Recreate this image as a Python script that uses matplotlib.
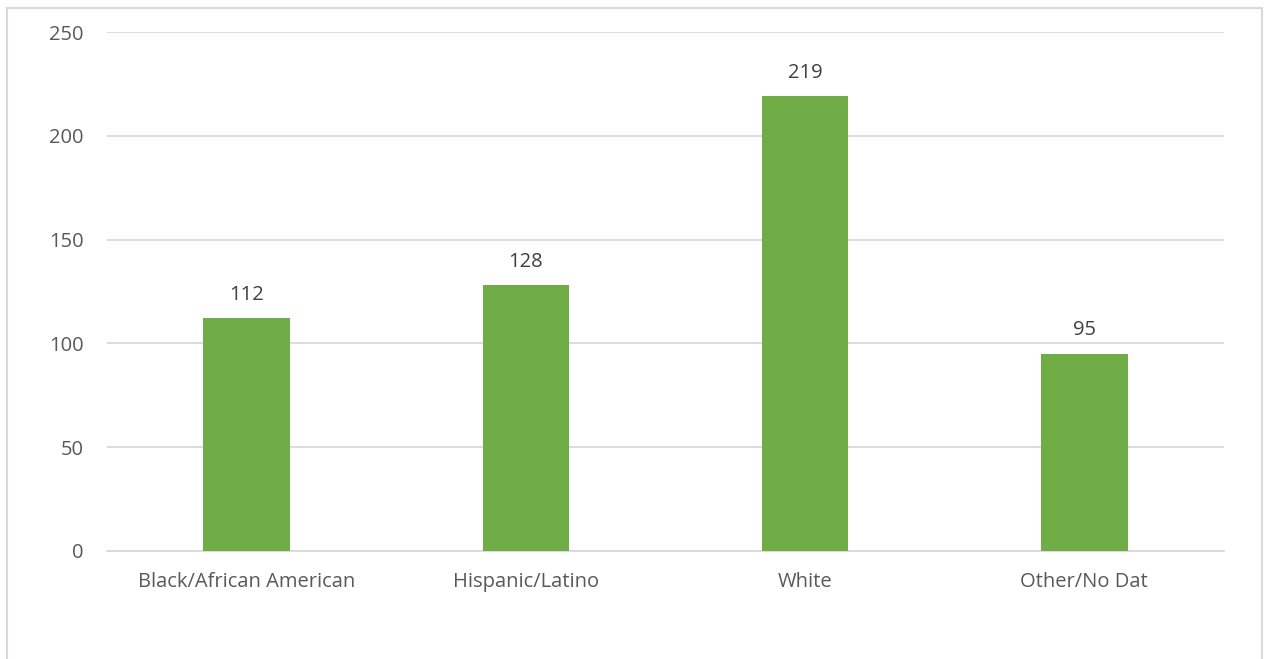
import matplotlib.pyplot as plt
from matplotlib.patches import Rectangle

# Data
categories = ["Black/African American", "Hispanic/Latino", "White", "Other/No Dat"]
counts = [112, 128, 219, 95]
yticks = [0, 50, 100, 150, 200, 250]

W, H = 1265, 659
fig = plt.figure(figsize=(W / 100, H / 100), dpi=100)
plt.rcParams['font.family'] = ['Open Sans', 'DejaVu Sans']

# outer chart border (bottom edge runs off the image)
fig.patches.append(Rectangle((7 / W, -0.05), (1262 - 7) / W, 1.05 - 8 / H,
                             transform=fig.transFigure, fill=False,
                             edgecolor="#d9d9d9", linewidth=1.5))

ax = fig.add_axes([107 / W, 1 - 551 / H, (1224 - 107) / W, (551 - 32) / H])
x = range(len(categories))
bars = ax.bar(x, counts, width=0.31, color="#70ad47", zorder=3)

for xi, v in zip(x, counts):
    ax.text(xi, v + 6.5, str(v), ha="center", va="bottom", fontsize=14.5, color="#404040")

ax.set_xlim(-0.5, len(categories) - 0.5)
ax.set_ylim(0, 250)
ax.set_yticks(yticks)
ax.set_xticks(list(x))
ax.set_xticklabels(categories)
ax.tick_params(axis="both", length=0, labelsize=14.5, colors="#595959")
ax.tick_params(axis="y", pad=17)
ax.tick_params(axis="x", pad=15)
ax.grid(axis="y", color="#d9d9d9", linewidth=1.3, zorder=0)
for s in ["top", "right", "left"]:
    ax.spines[s].set_visible(False)
ax.spines["bottom"].set_color("#d9d9d9")
ax.spines["bottom"].set_linewidth(1.3)

plt.savefig("out.png", dpi=100)
